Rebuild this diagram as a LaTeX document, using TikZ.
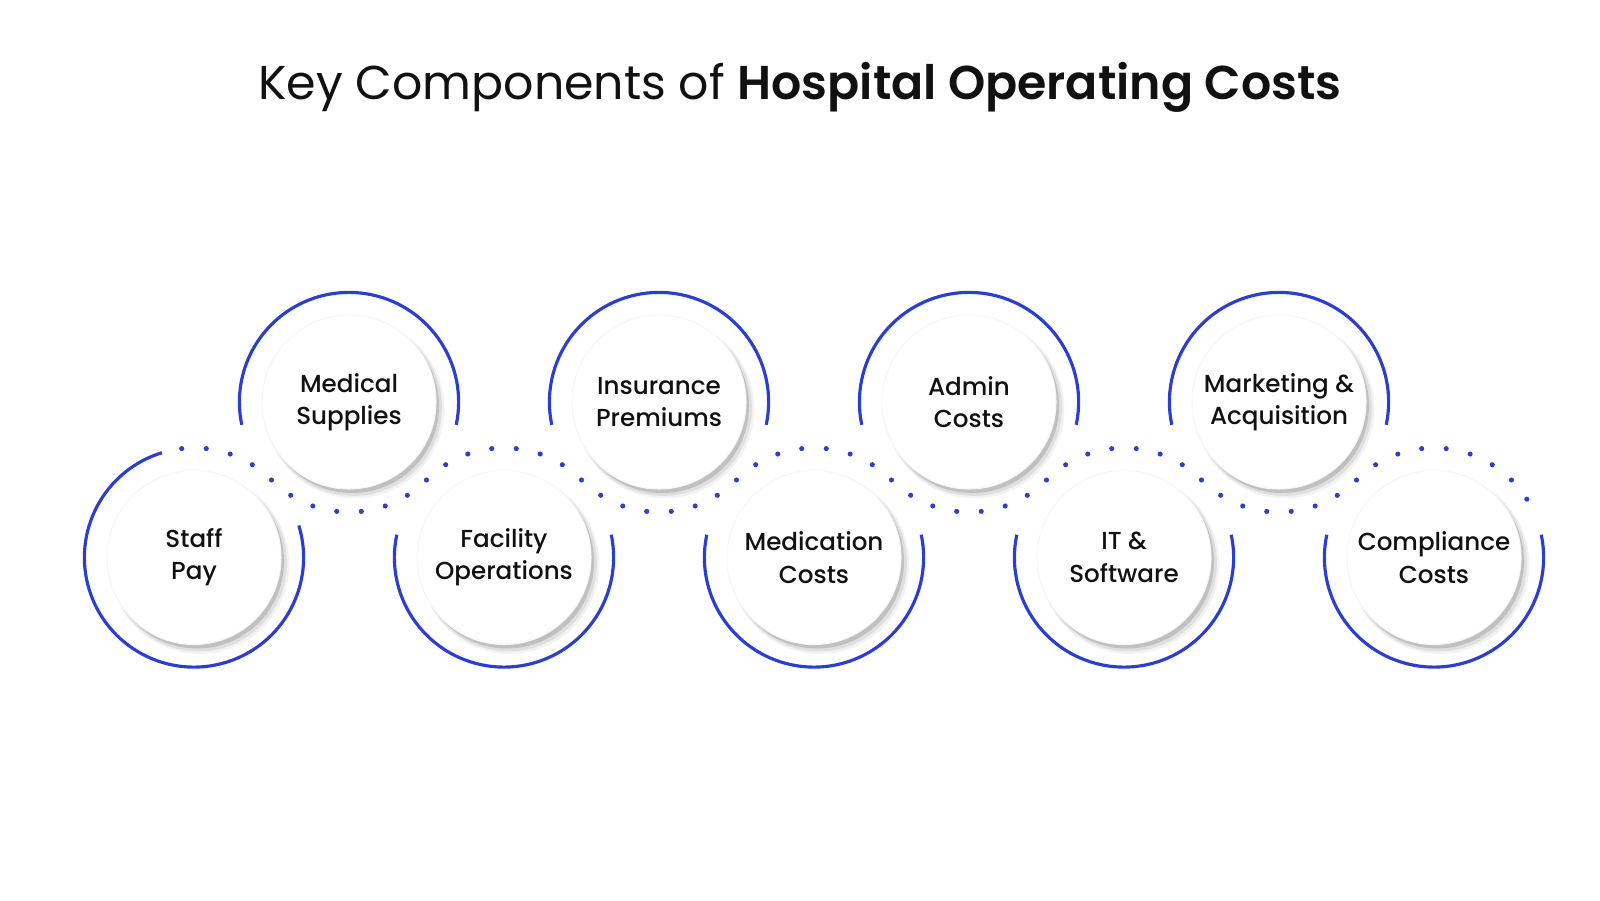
\documentclass[tikz,border=0pt]{standalone}
\usepackage{fontspec}
\setmainfont{Poppins}
\newfontfamily\etiquette{Poppins Medium}
\newfontfamily\titregras{Poppins SemiBold}
\usetikzlibrary{shadows}

\definecolor{bleuanneau}{RGB}{44,62,206}
\definecolor{texte}{RGB}{17,17,17}

\tikzset{
  composante/.style={circle, minimum size=1.74cm, inner sep=0pt, fill=white,
    draw=gray!7, line width=0.3pt, align=center, text=texte,
    font=\etiquette\fontsize{7}{9.2}\selectfont,
    drop shadow={shadow xshift=0.55mm, shadow yshift=-0.65mm, shadow scale=1.03, opacity=0.05, fill=black},
    drop shadow={shadow xshift=0.45mm, shadow yshift=-0.55mm, shadow scale=1.015, opacity=0.08, fill=black},
    drop shadow={shadow xshift=0.3mm, shadow yshift=-0.4mm, opacity=0.14, fill=black}},
  anneau/.style={draw=bleuanneau, line width=0.9pt},
  pointille/.style={draw=bleuanneau, line width=1.45pt, line cap=round,
    dash pattern=on 0pt off 0.24594cm},
}

\begin{document}
\begin{tikzpicture}
  \useasboundingbox (0,0) rectangle (16,9);

  % Titre de la figure
  \node[text=texte, font=\fontsize{13.5}{16}\selectfont] (titre) at (8,8.13)
    {Key Components of {\titregras Hospital Operating Costs}};

  % Hauteurs des deux rangees et rayon des anneaux
  \def\yb{3.425}
  \def\yh{4.98}
  \def\rr{1.096}

  % Les neuf composantes (en bas, en haut, en alternance)
  \node[composante] (staff) at (1.94,\yb) {Staff\\Pay};
  \node[composante] (medical) at (3.49,\yh) {Medical\\Supplies};
  \node[composante] (facility) at (5.04,\yb) {Facility\\Operations};
  \node[composante] (insurance) at (6.59,\yh) {Insurance\\Premiums};
  \node[composante] (medication) at (8.14,\yb) {Medication\\Costs};
  \node[composante] (admin) at (9.69,\yh) {Admin\\Costs};
  \node[composante] (itsoft) at (11.24,\yb) {IT \&\\Software};
  \node[composante] (marketing) at (12.79,\yh) {Marketing \&\\Acquisition};
  \node[composante] (compliance) at (14.34,\yb) {Compliance\\Costs};

  % Anneaux pleins autour de chaque cercle
  \draw[anneau] ([shift={(107:\rr)}]staff.center) arc[start angle=107, end angle=377, radius=\rr];
  \draw[anneau] ([shift={(-12:\rr)}]medical.center) arc[start angle=-12, end angle=192, radius=\rr];
  \draw[anneau] ([shift={(168:\rr)}]facility.center) arc[start angle=168, end angle=372, radius=\rr];
  \draw[anneau] ([shift={(-12:\rr)}]insurance.center) arc[start angle=-12, end angle=192, radius=\rr];
  \draw[anneau] ([shift={(168:\rr)}]medication.center) arc[start angle=168, end angle=372, radius=\rr];
  \draw[anneau] ([shift={(-12:\rr)}]admin.center) arc[start angle=-12, end angle=192, radius=\rr];
  \draw[anneau] ([shift={(168:\rr)}]itsoft.center) arc[start angle=168, end angle=372, radius=\rr];
  \draw[anneau] ([shift={(-12:\rr)}]marketing.center) arc[start angle=-12, end angle=192, radius=\rr];
  \draw[anneau] ([shift={(168:\rr)}]compliance.center) arc[start angle=168, end angle=372, radius=\rr];

  % Vague en pointilles qui relie les anneaux
  \draw[pointille] ([shift={(96.43:\rr)}]staff.center)
    arc[start angle=96.43, end angle=45, radius=\rr]
    arc[start angle=225, end angle=315, radius=\rr]
    arc[start angle=135, end angle=45, radius=\rr]
    arc[start angle=225, end angle=315, radius=\rr]
    arc[start angle=135, end angle=45, radius=\rr]
    arc[start angle=225, end angle=315, radius=\rr]
    arc[start angle=135, end angle=45, radius=\rr]
    arc[start angle=225, end angle=315, radius=\rr]
    arc[start angle=135, end angle=32.14, radius=\rr];

\end{tikzpicture}
\end{document}
